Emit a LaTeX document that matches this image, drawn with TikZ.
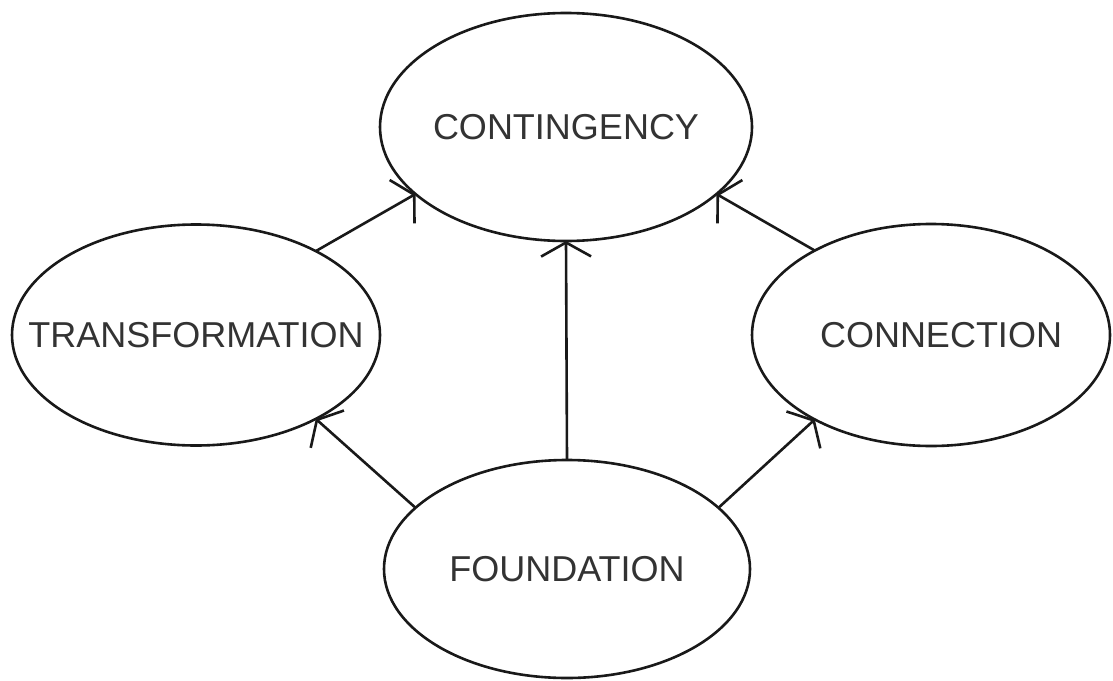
\documentclass[tikz,border=0pt]{standalone}
\usepackage{fontspec}
\setmainfont{Liberation Sans}
\usetikzlibrary{shapes.geometric,arrows.meta}
\begin{document}
\begin{tikzpicture}[x=1pt,y=-1pt,
  oval/.style={ellipse,draw=black!90,line width=2.6pt,inner sep=0pt,outer sep=0pt,
    text=black!80,font=\fontsize{36}{40}\selectfont},
  arr/.style={draw=black!90,line width=2.6pt,-{Straight Barb[length=14pt,width=50pt,line width=2.6pt]}}]
\useasboundingbox (0,0) rectangle (1113,680);
\node[oval,minimum width=372pt,minimum height=228pt] (c) at (566,127) {\makebox[0pt]{CONTINGENCY}};
\node[oval,minimum width=368pt,minimum height=221pt] (t) at (196,335) {\makebox[0pt]{TRANSFORMATION}};
\node[oval,minimum width=358pt,minimum height=222pt] (n) at (931,335) {\makebox[0pt]{\hspace*{20pt}CONNECTION}};
\node[oval,minimum width=366pt,minimum height=218pt] (f) at (567,569) {\makebox[0pt]{FOUNDATION}};
\draw[arr] (t.35) -- (c.204);
\draw[arr] (n.144) -- (c.336);
\draw[arr] (f.90) -- (c.270);
\draw[arr] (f.158) -- (t.325);
\draw[arr] (f.22) -- (n.216);
\end{tikzpicture}
\end{document}
